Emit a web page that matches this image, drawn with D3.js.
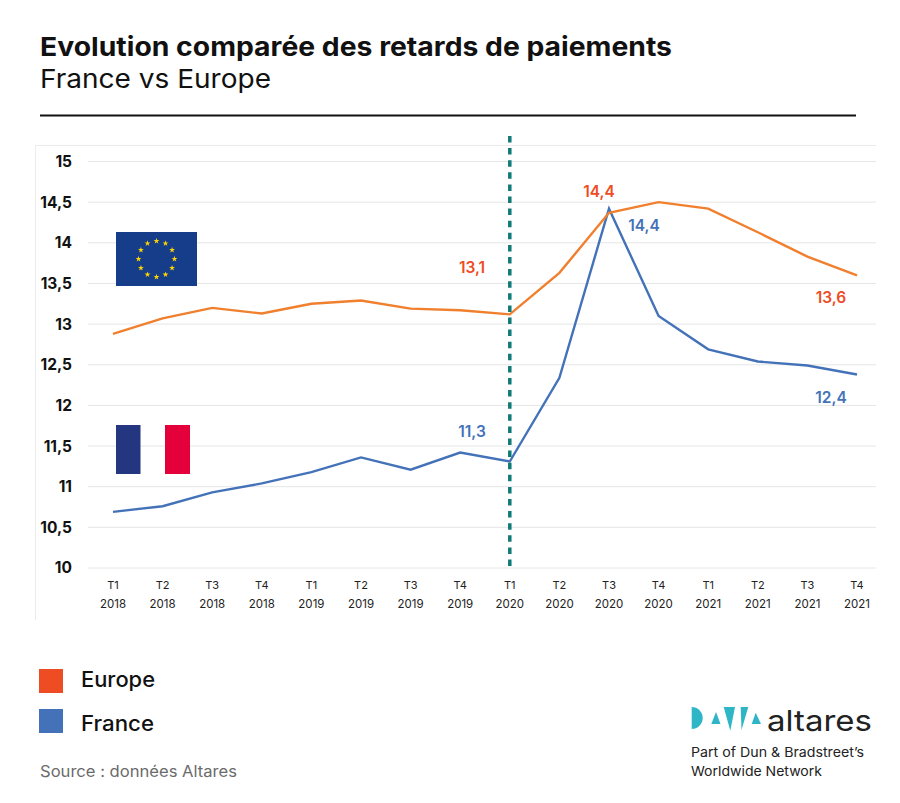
<!DOCTYPE html>
<html lang="fr"><head><meta charset="utf-8">
<script src="https://cdn.jsdelivr.net/npm/d3@7"></script>
<style>html,body{margin:0;background:#fff}svg{display:block}text{font-family:Inter,"Open Sans",sans-serif}</style>
</head><body><svg id="c" width="900" height="803"></svg>
<script>
const quarters=["T1","T2","T3","T4","T1","T2","T3","T4","T1","T2","T3","T4","T1","T2","T3","T4"];
const years=["2018","2018","2018","2018","2019","2019","2019","2019","2020","2020","2020","2020","2021","2021","2021","2021"];
const europe=[12.88,13.07,13.2,13.13,13.25,13.29,13.19,13.17,13.12,13.63,14.37,14.5,14.42,14.13,13.83,13.6];
const france=[10.69,10.76,10.93,11.04,11.18,11.36,11.21,11.42,11.31,12.34,14.42,13.1,12.69,12.54,12.49,12.38];
const yTicks=[10,10.5,11,11.5,12,12.5,13,13.5,14,14.5,15];
const labelsEurope=[[8,"13,1"],[10,"14,4"],[15,"13,6"]];
const labelsFrance=[[7,"11,3"],[10,"14,4"],[15,"12,4"]];
const legendItems=["Europe","France"];

const svg=d3.select("#c");
const fmt=v=>String(v).replace(".",",");
const x=d3.scalePoint().domain(d3.range(16)).range([113,857]);
const y=d3.scaleLinear().domain([10,15]).range([568,161.5]);

// title
svg.append("text").attr("x",40).attr("y",56).attr("font-size",26).attr("font-weight",650).attr("fill","#111").attr("textLength",632).attr("lengthAdjust","spacingAndGlyphs").text("Evolution comparée des retards de paiements");
svg.append("text").attr("x",40).attr("y",88).attr("font-size",26).attr("font-weight",400).attr("fill","#111").attr("textLength",231).attr("lengthAdjust","spacingAndGlyphs").text("France vs Europe");
svg.append("line").attr("x1",40).attr("x2",856).attr("y1",115.5).attr("y2",115.5).attr("stroke","#111").attr("stroke-width",2);

// chart frame
svg.append("line").attr("x1",35.5).attr("x2",35.5).attr("y1",146).attr("y2",620).attr("stroke","#ececec").attr("stroke-width",1);
svg.append("line").attr("x1",35).attr("x2",876).attr("y1",145.5).attr("y2",145.5).attr("stroke","#ececec").attr("stroke-width",1);

// grid
svg.append("g").selectAll("line").data(yTicks).join("line")
 .attr("x1",88).attr("x2",876).attr("y1",d=>y(d)).attr("y2",d=>y(d)).attr("stroke","#e6e6e6").attr("stroke-width",1);

// y axis
const yAxis=d3.axisLeft(y).tickValues(yTicks).tickSize(0).tickPadding(0).tickFormat(fmt);
const gy=svg.append("g").attr("transform","translate(72,0)").call(yAxis);
gy.select(".domain").remove();
gy.selectAll("text").attr("font-size",15.5).attr("font-weight",650).attr("fill","#111").style("font-family","Inter,sans-serif");

// x axis
const gx=svg.append("g").selectAll("g").data(d3.range(16)).join("g");
gx.append("text").attr("x",d=>x(d)).attr("y",589).attr("text-anchor","middle").attr("font-size",11).attr("fill","#222").text(d=>quarters[d]);
gx.append("text").attr("x",d=>x(d)).attr("y",608).attr("text-anchor","middle").attr("font-size",11.5).attr("fill","#222").text(d=>years[d]);

// flags
const eu=svg.append("g");
eu.append("rect").attr("x",116).attr("y",232).attr("width",81).attr("height",54).attr("fill","#153d8a");
const sc={x:156.5,y:259,r:18};
eu.selectAll("path").data(d3.range(12)).join("path")
 .attr("d",d3.symbol(d3.symbolStar,11))
 .attr("transform",d=>`translate(${sc.x+sc.r*Math.sin(d*Math.PI/6)},${sc.y-sc.r*Math.cos(d*Math.PI/6)})`)
 .attr("fill","#ffd400");
svg.append("rect").attr("x",116).attr("y",425).attr("width",24.5).attr("height",49).attr("fill","#24367f");
svg.append("rect").attr("x",165).attr("y",425).attr("width",25).attr("height",49).attr("fill","#e4003a");

// lines
const line=d3.line().x((d,i)=>x(i)).y(d=>y(d));
svg.append("path").datum(france).attr("d",line).attr("fill","none").attr("stroke","#4472b9").attr("stroke-width",2.4);
svg.append("path").datum(europe).attr("d",line).attr("fill","none").attr("stroke","#f07f2e").attr("stroke-width",2.4);

// divider
svg.append("line").attr("x1",x(8)).attr("x2",x(8)).attr("y1",136).attr("y2",570).attr("stroke","#0f7a78").attr("stroke-width",3.5).attr("stroke-dasharray","6.5 5.6");

// value labels
const lblPos={E8:[472,273],E10:[599,197],E15:[831,303],F7:[472,437],F10:[644,231],F15:[831,403]};
svg.append("g").selectAll("text").data(labelsEurope).join("text")
 .attr("x",d=>lblPos["E"+d[0]][0]).attr("y",d=>lblPos["E"+d[0]][1]).attr("text-anchor","middle")
 .attr("font-size",15.5).attr("font-weight",600).attr("fill","#ee4c23").text(d=>d[1]);
svg.append("g").selectAll("text").data(labelsFrance).join("text")
 .attr("x",d=>lblPos["F"+d[0]][0]).attr("y",d=>lblPos["F"+d[0]][1]).attr("text-anchor","middle")
 .attr("font-size",15.5).attr("font-weight",600).attr("fill","#4472b9").text(d=>d[1]);

// legend
const legColors=["#ee4c23","#4472b9"], legY=[669,709], legBase=[687,731], legLen=[74,73];
const lg=svg.append("g").selectAll("g").data(legendItems).join("g");
lg.append("rect").attr("x",39).attr("y",(d,i)=>legY[i]).attr("width",24).attr("height",24).attr("fill",(d,i)=>legColors[i]);
lg.append("text").attr("x",81).attr("y",(d,i)=>legBase[i]).attr("font-size",21).attr("font-weight",500).attr("fill","#111").attr("textLength",(d,i)=>legLen[i]).attr("lengthAdjust","spacingAndGlyphs").text(d=>d);

svg.append("text").attr("x",40).attr("y",777).attr("font-size",15.5).attr("fill","#6b6b6b").attr("textLength",197).attr("lengthAdjust","spacingAndGlyphs").text("Source : données Altares");

// logo
const teal="#2fb6c6";
svg.append("path").attr("d","M691.7 707 A11 11 0 0 1 691.7 729 Z").attr("fill",teal);
const tri=[[[716,712],[711.3,724],[720.5,724]],[[723.7,707],[735,707],[730.3,730.7]],[[740.7,707],[748.3,707],[741.5,730]],[[755.7,712.7],[751.7,724],[761,724]]];
svg.append("g").selectAll("polygon").data(tri).join("polygon").attr("points",d=>d.join(" ")).attr("fill",teal);
svg.append("text").attr("x",767).attr("y",730.5).attr("font-size",29).attr("font-weight",400).attr("fill","#222").attr("textLength",105).attr("lengthAdjust","spacingAndGlyphs").text("altares");
svg.append("text").attr("x",691).attr("y",757).attr("font-size",13.5).attr("fill","#222").attr("textLength",173).attr("lengthAdjust","spacingAndGlyphs").text("Part of Dun & Bradstreet’s");
svg.append("text").attr("x",691).attr("y",775.5).attr("font-size",13.5).attr("fill","#222").attr("textLength",131).attr("lengthAdjust","spacingAndGlyphs").text("Worldwide Network");
</script></body></html>
